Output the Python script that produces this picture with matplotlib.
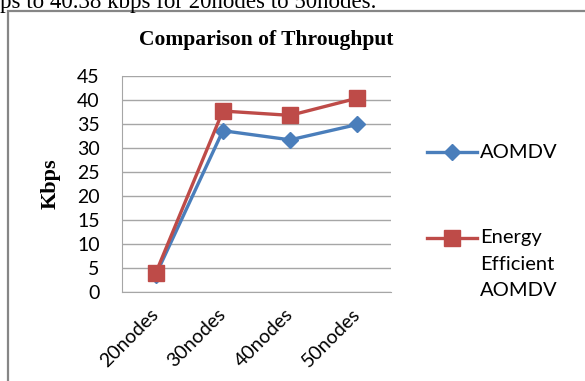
import matplotlib.pyplot as plt
from matplotlib.lines import Line2D
from matplotlib.patches import Rectangle
from matplotlib.transforms import ScaledTranslation

plt.rcParams.update({
    "font.family": "sans-serif",
    "font.sans-serif": ["Lato", "DejaVu Sans"],
})

nodes = ["20nodes", "30nodes", "40nodes", "50nodes"]
aomdv = [3.5, 33.6, 31.7, 34.9]
energy_aomdv = [3.9, 37.7, 36.8, 40.38]

blue = "#4a7ebb"
red = "#be4b48"
grid = "#a6a6a6"

W, H = 585, 381
fig = plt.figure(figsize=(W / 100, H / 100), dpi=100)

# text of the page above the chart (cut off by the crop)
fig.text(0, 1 - 8 / H, "ps to 40.38 kbps for 20nodes to 50nodes.",
         family="Liberation Serif", fontsize=16.5, va="baseline", ha="left")

# chart frame
fig.add_artist(Rectangle((8 / W, -0.1), 1.2, (H - 11) / H + 0.1,
                         transform=fig.transFigure, fill=False,
                         edgecolor="#868686", linewidth=1.6))

ax = fig.add_axes([122 / W, (H - 292) / H, 269 / W, 216 / H])
x = range(len(nodes))
ax.plot(x, aomdv, color=blue, lw=2.4, marker="D", ms=8, label="AOMDV")
ax.plot(x, energy_aomdv, color=red, lw=2.4, marker="s", ms=11,
        label="Energy\nEfficient\nAOMDV")

ax.set_xlim(-0.5, len(nodes) - 0.5)
ax.set_ylim(0, 45)
ax.set_yticks(range(0, 46, 5))
ax.set_xticks(list(x))
ax.set_xticklabels(nodes, rotation=45, ha="right", va="top",
                   rotation_mode="anchor", fontsize=14)
ax.tick_params(axis="x", length=0, pad=10)
ax.tick_params(axis="y", length=0, pad=16, labelsize=14)
shift = ScaledTranslation(-6 / 100, 0, fig.dpi_scale_trans)
for lab in ax.get_xticklabels():
    lab.set_transform(lab.get_transform() + shift)
ax.grid(axis="y", color=grid, lw=1)
ax.set_axisbelow(True)
for side in ["top", "right"]:
    ax.spines[side].set_visible(False)
for side in ["left", "bottom"]:
    ax.spines[side].set_color(grid)

ax.set_ylabel("Kbps", family="Liberation Serif", fontweight="bold",
              fontsize=16, labelpad=12)
fig.text(266 / W, 1 - 40 / H, "Comparison of Throughput",
         family="Liberation Serif", fontweight="bold", fontsize=15.5,
         ha="center", va="center")

# legend drawn on the right like the original
for line, y in zip(ax.get_lines(), [152, 238]):
    yf = 1 - y / H
    fig.add_artist(Line2D([427 / W, 477 / W], [yf, yf], color=line.get_color(),
                          lw=line.get_linewidth()))
    fig.add_artist(Line2D([452 / W], [yf], color=line.get_color(),
                          marker=line.get_marker(), ms=line.get_markersize()))
    parts = line.get_label().split("\n")
    for i, t in enumerate(parts):
        fig.text(480 / W, 1 - (y + 26 * i) / H, t, fontsize=14.5,
                 va="center", ha="left")

fig.savefig("out.png", dpi=100)
